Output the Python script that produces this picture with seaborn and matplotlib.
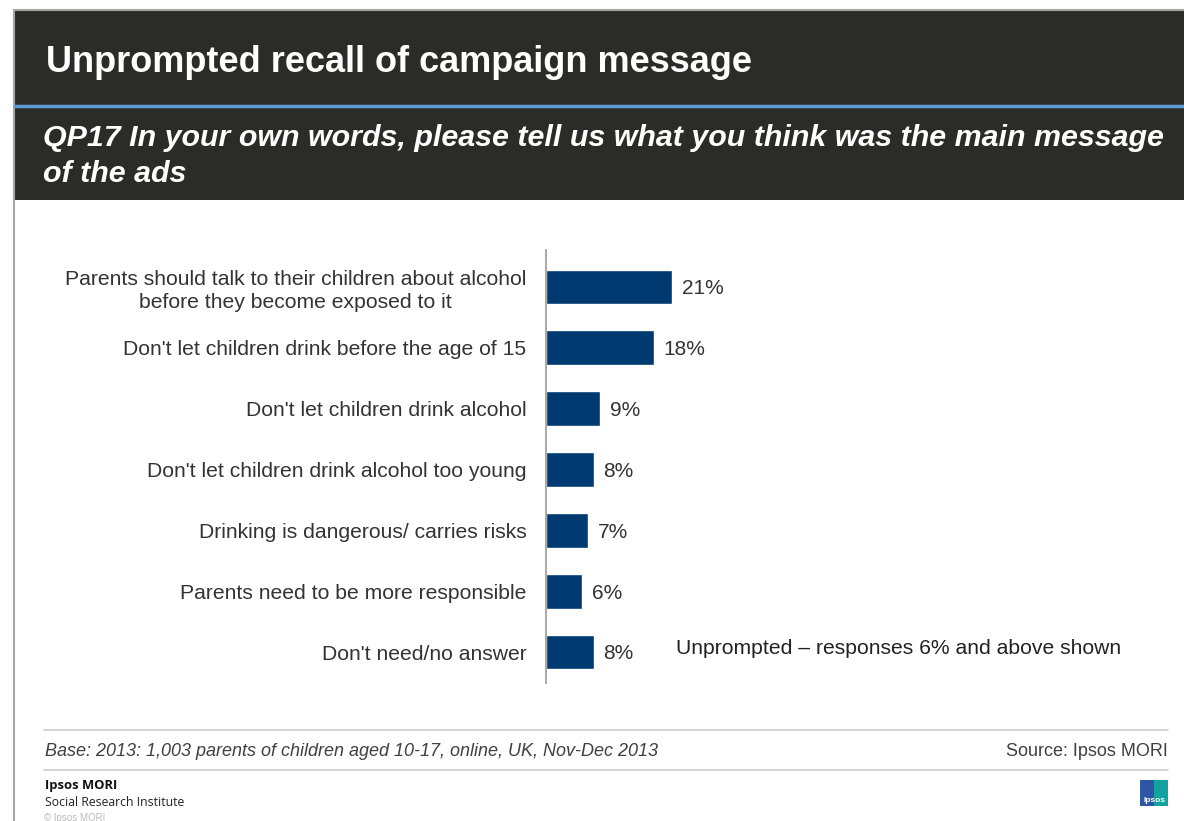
import matplotlib
matplotlib.use("Agg")
import matplotlib.pyplot as plt
import seaborn as sns
import pandas as pd
from matplotlib.patches import Rectangle
from matplotlib.lines import Line2D

# Survey responses (percent of parents)
categories = [
    "Parents should talk to their children about alcohol\nbefore they become exposed to it",
    "Don't let children drink before the age of 15",
    "Don't let children drink alcohol",
    "Don't let children drink alcohol too young",
    "Drinking is dangerous/ carries risks",
    "Parents need to be more responsible",
    "Don't need/no answer",
]
values = [21, 18, 9, 8, 7, 6, 8]

title = "Unprompted recall of campaign message"
question = "QP17 In your own words, please tell us what you think was the main message\nof the ads"
note = "Unprompted \u2013 responses 6% and above shown"
base_text = "Base: 2013: 1,003 parents of children aged 10-17, online, UK, Nov-Dec 2013"
source_text = "Source: Ipsos MORI"

sns.set_theme(style="white")
plt.rcParams["font.family"] = ["Liberation Sans", "DejaVu Sans"]

W, H = 1184, 821
fig = plt.figure(figsize=(W / 100, H / 100), dpi=100)

def fx(px):
    return px / W

def fy(py):
    return 1 - py / H

# Header band and frame
fig.patches.append(Rectangle((fx(14), fy(200)), fx(W - 14), (200 - 10) / H,
                             transform=fig.transFigure, facecolor="#2b2b27",
                             edgecolor="none", zorder=0))
fig.lines.append(Line2D([fx(14), fx(14)], [fy(10), 0], transform=fig.transFigure,
                        color="#a6a6a6", lw=1.5))
fig.lines.append(Line2D([fx(14), 1], [fy(10), fy(10)], transform=fig.transFigure,
                        color="#a6a6a6", lw=1.5))
fig.lines.append(Line2D([fx(15), 1], [fy(106), fy(106)], transform=fig.transFigure,
                        color="#5b9bd5", lw=2.5))

fig.text(fx(46), fy(62), title, color="white", fontsize=26, fontweight="bold",
         va="center", ha="left")
fig.text(fx(43), fy(156), question, color="white", fontsize=21.9, fontweight="bold",
         fontstyle="italic", va="center", ha="left", linespacing=1.32)

# Bar chart
df = pd.DataFrame({"category": categories, "value": values})
ax = fig.add_axes([fx(546), fy(683), fx(1130 - 546), (683 - 250) / H])
sns.barplot(data=df, x="value", y="category", orient="h", color="#003a70",
            width=0.57, ax=ax, saturation=1)
ax.set_xlim(0, (1130 - 546) / 6.0)
ax.set_ylim(6.508, -0.607)
ax.set_xlabel("")
ax.set_ylabel("")
ax.set_xticks([])
for s in ["top", "right", "bottom"]:
    ax.spines[s].set_visible(False)
ax.spines["left"].set_color("#999999")
ax.spines["left"].set_linewidth(1.2)
ax.tick_params(axis="y", length=0, pad=14, labelsize=15.2, labelcolor="#333333")
for lbl in ax.get_yticklabels():
    lbl.set_multialignment("center")
    lbl.set_linespacing(1.3)

for i, v in enumerate(values):
    ax.text(v + 1.6, i + 0.03, f"{v}%", va="center", ha="left", fontsize=15,
            color="#333333")

ax.text(21.7, 5.934, note, va="center", ha="left", fontsize=15.2, color="#222222")

# Footer
fig.lines.append(Line2D([fx(44), fx(1168)], [fy(730), fy(730)],
                        transform=fig.transFigure, color="#d0d0d0", lw=1.2))
fig.lines.append(Line2D([fx(44), fx(1168)], [fy(770), fy(770)],
                        transform=fig.transFigure, color="#d0d0d0", lw=1.2))
fig.text(fx(45), fy(751), base_text, fontsize=13, fontstyle="italic",
         color="#404040", va="center", ha="left")
fig.text(fx(1168), fy(751), source_text, fontsize=13, color="#404040",
         va="center", ha="right")
fig.text(fx(45), fy(785), "Ipsos MORI", fontsize=9.4, fontweight="bold",
         color="#111111", va="center", ha="left", family=["Open Sans", "DejaVu Sans"])
fig.text(fx(45), fy(802), "Social Research Institute", fontsize=8.8,
         color="#222222", va="center", ha="left", family=["Open Sans", "DejaVu Sans"])
fig.text(fx(44), fy(818), "\u00a9 Ipsos MORI", fontsize=7, color="#bbbbbb",
         va="center", ha="left")

# Logo badge
fig.patches.append(Rectangle((fx(1140), fy(806)), fx(28), 26 / H,
                             transform=fig.transFigure, facecolor="#2f56a6",
                             edgecolor="none"))
fig.patches.append(Rectangle((fx(1154), fy(806)), fx(14), 26 / H,
                             transform=fig.transFigure, facecolor="#12a3a0",
                             edgecolor="none"))
fig.text(fx(1154), fy(800), "Ipsos", fontsize=6, color="white", fontweight="bold",
         va="center", ha="center")

fig.savefig("out.png", dpi=100)
